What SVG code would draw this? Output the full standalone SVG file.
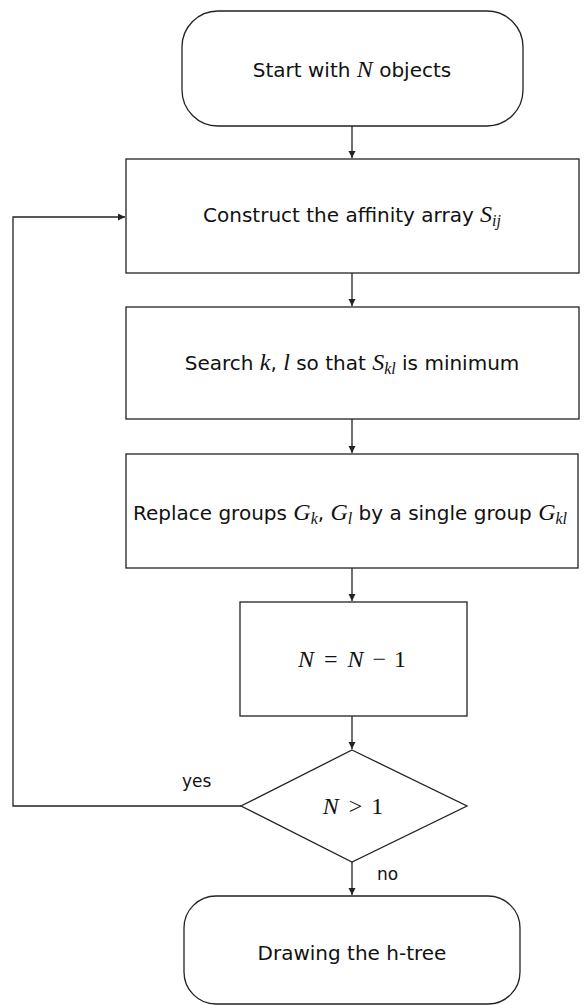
<svg xmlns="http://www.w3.org/2000/svg" width="586" height="1005" viewBox="0 0 586 1005">
<style>
.box{fill:#fff;stroke:#222;stroke-width:1.3}
.edge{fill:none;stroke:#222;stroke-width:1.3}
.t{font-family:"DejaVu Sans","Liberation Sans",sans-serif;font-size:20px;fill:#111;text-anchor:middle}
.lbl{font-family:"DejaVu Sans","Liberation Sans",sans-serif;font-size:17px;fill:#111}
.m{font-family:"Liberation Serif","DejaVu Serif",serif;font-style:italic;font-size:24px}
.mr{font-family:"Liberation Serif","DejaVu Serif",serif;font-style:normal;font-size:24px}
.s{font-family:"Liberation Serif","DejaVu Serif",serif;font-style:italic;font-size:16px}
</style>
<defs>
<marker id="arr" markerUnits="userSpaceOnUse" markerWidth="8" markerHeight="8" refX="7" refY="3.5" orient="auto">
<path d="M0,0 L7,3.5 L0,7 z" fill="#222"/>
</marker>
</defs>
<g id="connectors">
<line class="edge" x1="352" y1="126" x2="352" y2="158" marker-end="url(#arr)"/>
<line class="edge" x1="352" y1="273" x2="352" y2="306" marker-end="url(#arr)"/>
<line class="edge" x1="352" y1="419" x2="352" y2="453" marker-end="url(#arr)"/>
<line class="edge" x1="352" y1="568" x2="352" y2="601" marker-end="url(#arr)"/>
<line class="edge" x1="352" y1="716" x2="352" y2="749" marker-end="url(#arr)"/>
<line class="edge" x1="352" y1="862" x2="352" y2="895" marker-end="url(#arr)"/>
<polyline class="edge" points="241,806 13,806 13,217 125,217" marker-end="url(#arr)"/>
<text class="lbl" x="182" y="787">yes</text>
<text class="lbl" x="377" y="880">no</text>
</g>
<g id="start">
<rect class="box" x="182" y="11" width="341" height="115" rx="36" ry="36"/>
<text class="t" x="352" y="77">Start with <tspan class="m">N</tspan> objects</text>
</g>
<g id="construct">
<rect class="box" x="126" y="159" width="453" height="114"/>
<text class="t" x="352" y="222">Construct the affinity array <tspan class="m">S</tspan><tspan class="s" dy="4">ij</tspan></text>
</g>
<g id="search">
<rect class="box" x="126" y="307" width="453" height="112"/>
<text class="t" x="352" y="370">Search <tspan class="m">k</tspan>, <tspan class="m">l</tspan> so that <tspan class="m">S</tspan><tspan class="s" dy="4">kl</tspan><tspan dy="-4"> is minimum</tspan></text>
</g>
<g id="replace">
<rect class="box" x="126" y="454" width="452" height="114"/>
<text class="t" x="350" y="520">Replace groups <tspan class="m">G</tspan><tspan class="s" dy="4">k</tspan><tspan dy="-4">, </tspan><tspan class="m">G</tspan><tspan class="s" dy="4">l</tspan><tspan dy="-4"> by a single group </tspan><tspan class="m">G</tspan><tspan class="s" dy="4">kl</tspan></text>
</g>
<g id="decrement">
<rect class="box" x="240" y="602" width="227" height="114"/>
<text class="t" x="352" y="667"><tspan class="m">N</tspan><tspan class="mr" dx="4"> = </tspan><tspan class="m" dx="4">N</tspan><tspan class="mr" dx="3"> − </tspan><tspan class="mr" dx="2">1</tspan></text>
</g>
<g id="decision">
<polygon class="box" points="352,750 467,806 352,862 241,806"/>
<text class="t" x="353" y="814"><tspan class="m">N</tspan><tspan class="mr" dx="4"> &gt; </tspan><tspan class="mr" dx="3">1</tspan></text>
</g>
<g id="end">
<rect class="box" x="184" y="896" width="336" height="108" rx="32" ry="32"/>
<text class="t" x="352" y="960">Drawing the h-tree</text>
</g>
</svg>
